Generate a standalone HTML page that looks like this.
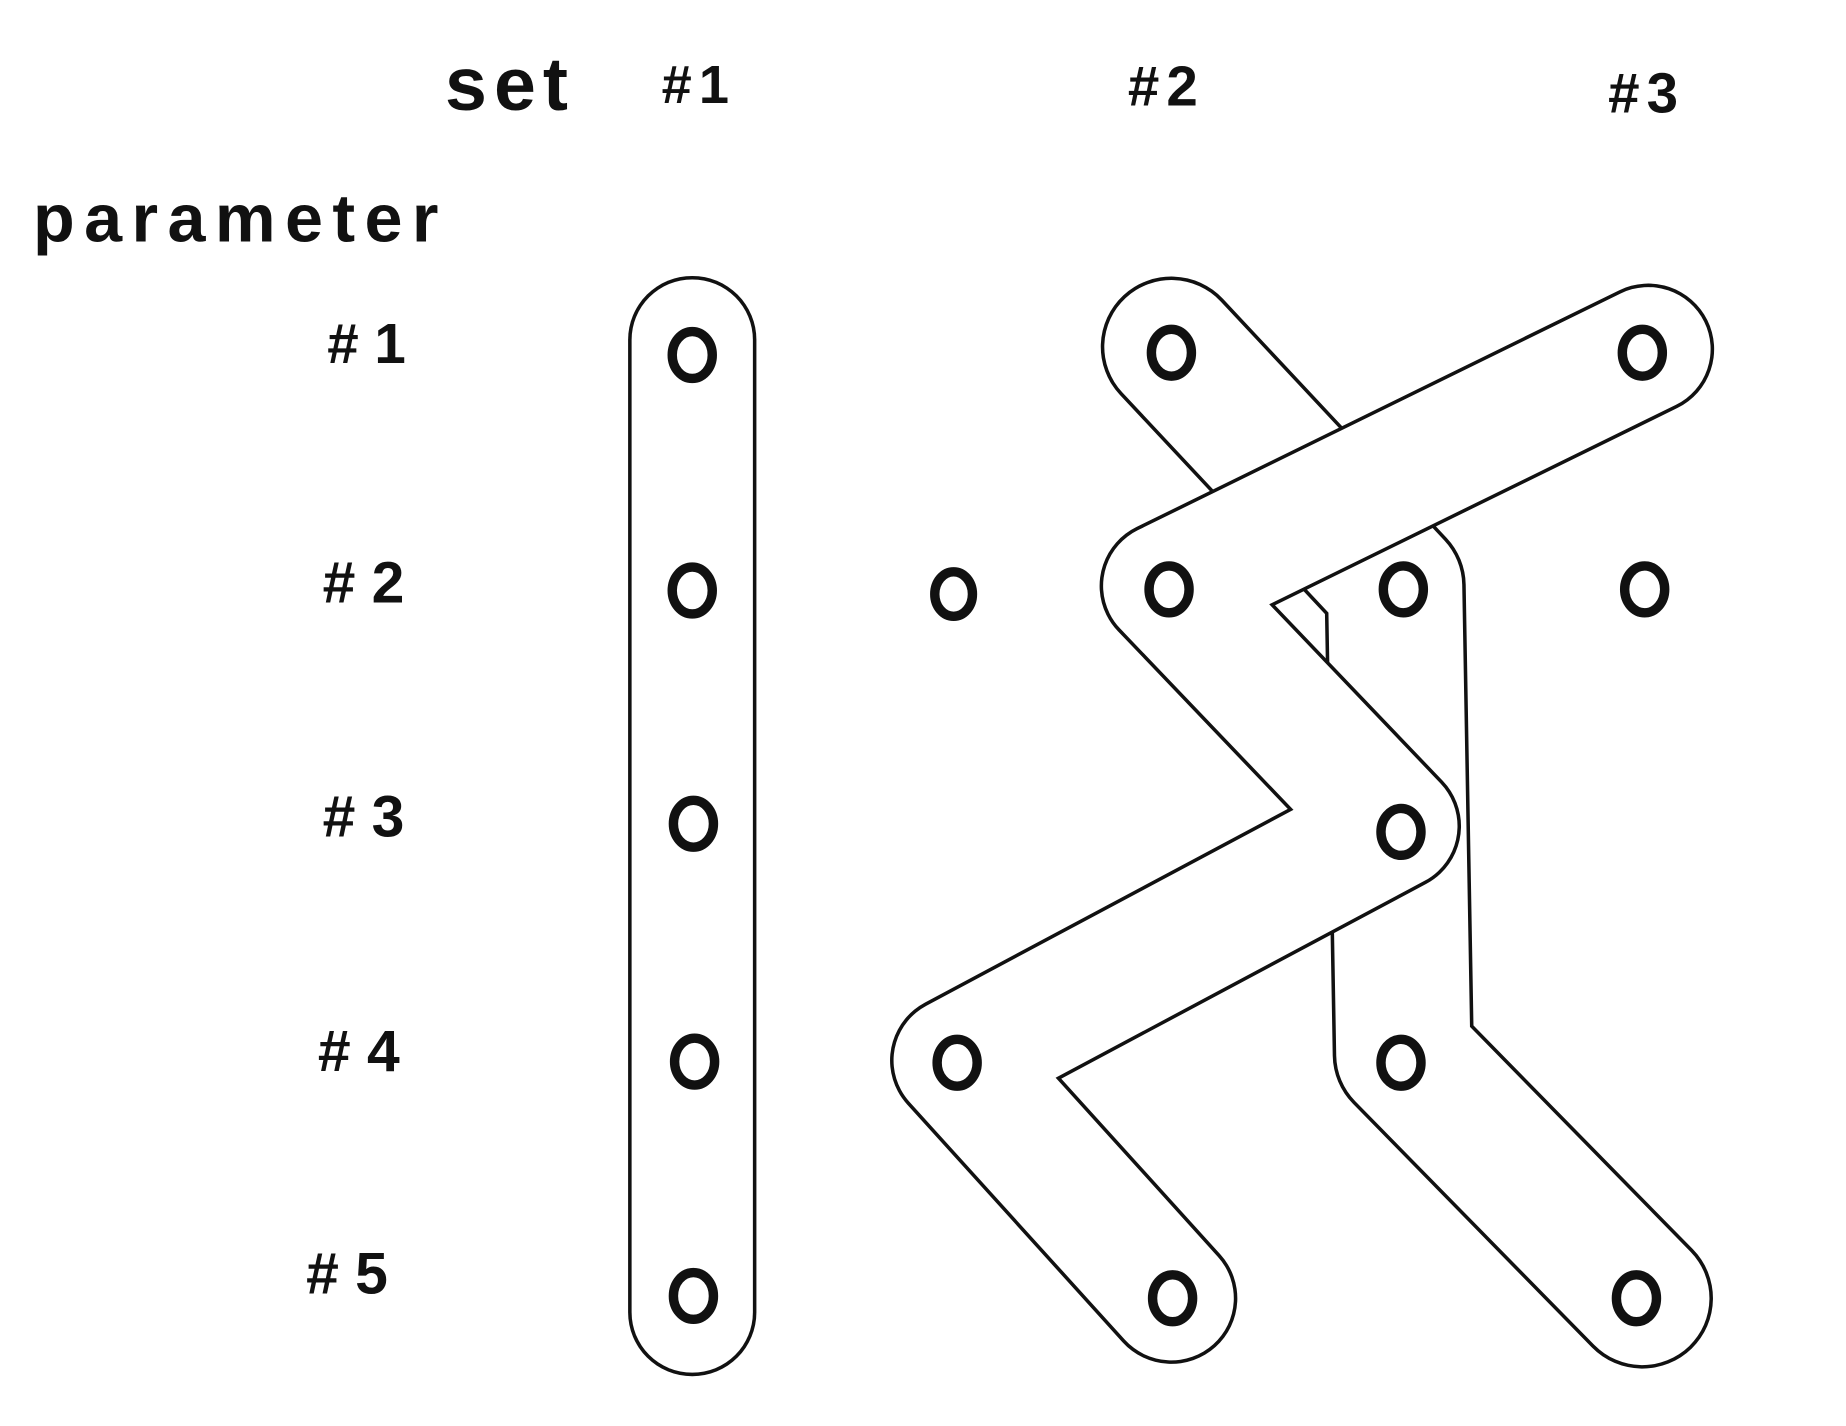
<!DOCTYPE html>
<html><head><meta charset="utf-8"><style>
html,body{margin:0;padding:0;background:#fff;}
svg{display:block;}
text{font-family:"Liberation Sans",sans-serif;font-weight:bold;fill:#111;}
</style></head><body>
<svg width="1846" height="1426" viewBox="0 0 1568 1217" preserveAspectRatio="none" xmlns="http://www.w3.org/2000/svg">
<rect width="1568" height="1217" fill="#fff"/>
<text x="378" y="94" font-size="64" letter-spacing="6">set</text>
<text x="562" y="88" font-size="46" letter-spacing="6">#1</text>
<text x="958" y="90" font-size="48" letter-spacing="6">#2</text>
<text x="1366" y="96" font-size="48" letter-spacing="6">#3</text>
<text x="28" y="206" font-size="58" letter-spacing="8">parameter</text>
<text x="278" y="310" font-size="48" xml:space="preserve"># 1</text>
<text x="274" y="514" font-size="50" xml:space="preserve"># 2</text>
<text x="274" y="714" font-size="50" xml:space="preserve"># 3</text>
<text x="270" y="914" font-size="50" xml:space="preserve"># 4</text>
<text x="260" y="1104" font-size="50" xml:space="preserve"># 5</text>
<g fill="none" stroke-linecap="round" stroke-linejoin="round">
<path d="M588,290 L588,1120" stroke="#111" stroke-width="109"/>
<path d="M588,290 L588,1120" stroke="#fff" stroke-width="103"/>
<path d="M995,296 L1185,500 L1192,900 L1395,1108" stroke="#111" stroke-width="120"/>
<path d="M995,296 L1185,500 L1192,900 L1395,1108" stroke="#fff" stroke-width="114"/>
<path d="M1400,298 L990,500 L1185,705 L812,905 L995,1108" stroke="#111" stroke-width="112"/>
<path d="M1400,298 L990,500 L1185,705 L812,905 L995,1108" stroke="#fff" stroke-width="106"/>
</g>
<g fill="none" stroke="#111" stroke-width="8">
<ellipse cx="588" cy="303" rx="17" ry="20"/>
<ellipse cx="588" cy="504" rx="17" ry="20"/>
<ellipse cx="589" cy="703" rx="17" ry="20"/>
<ellipse cx="590" cy="906" rx="17" ry="20"/>
<ellipse cx="589" cy="1106" rx="17" ry="20"/>
<ellipse cx="810" cy="507" rx="16" ry="19"/>
<ellipse cx="995" cy="301" rx="17" ry="20"/>
<ellipse cx="993" cy="503" rx="17" ry="20"/>
<ellipse cx="1190" cy="710" rx="17" ry="20"/>
<ellipse cx="813" cy="907" rx="17" ry="20"/>
<ellipse cx="996" cy="1108" rx="17" ry="20"/>
<ellipse cx="1192" cy="503" rx="17" ry="20"/>
<ellipse cx="1190" cy="907" rx="17" ry="20"/>
<ellipse cx="1390" cy="1108" rx="17" ry="20"/>
<ellipse cx="1395" cy="301" rx="17" ry="20"/>
<ellipse cx="1397" cy="503" rx="17" ry="20"/>
</g>
</svg>
</body></html>
